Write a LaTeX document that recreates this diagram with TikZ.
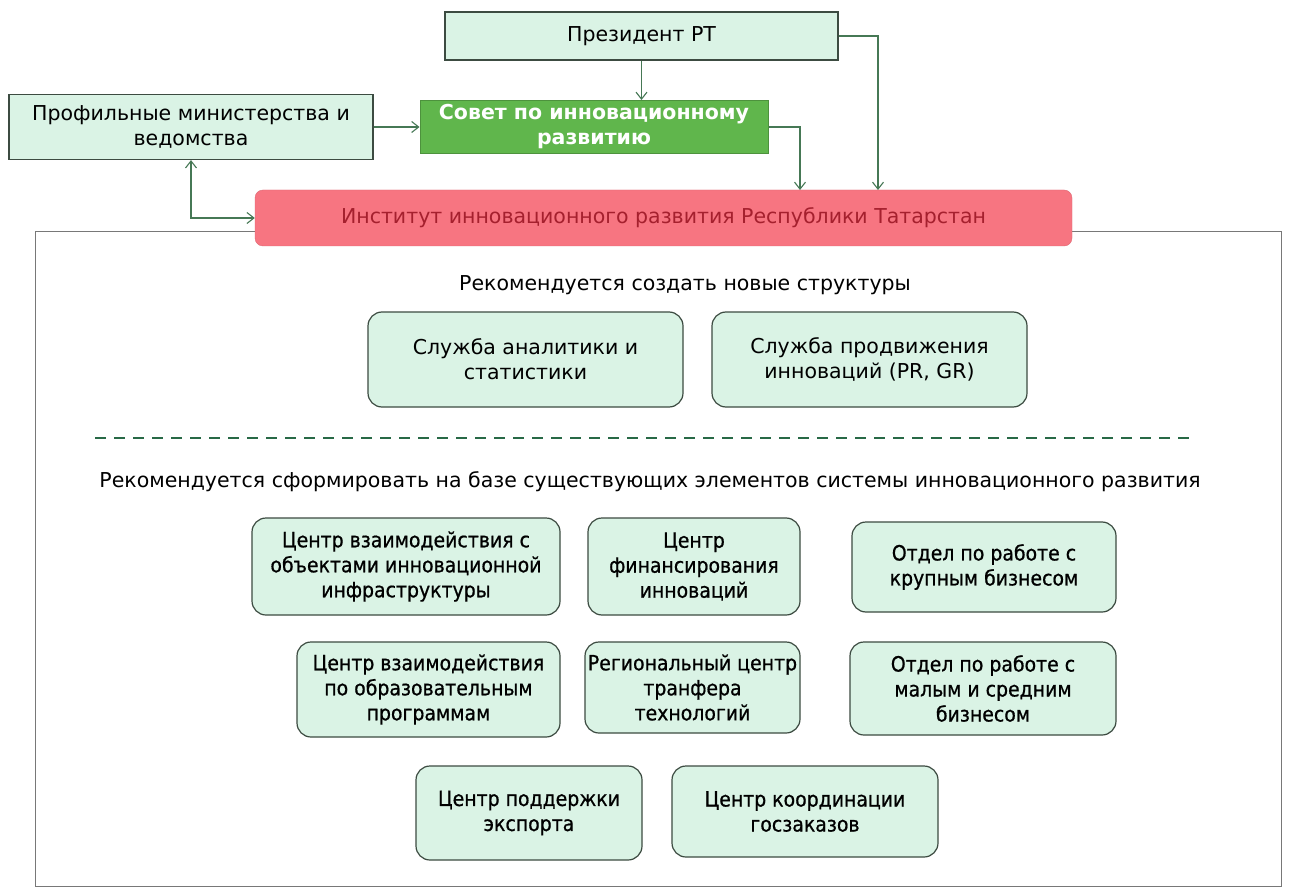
\documentclass[tikz,border=0pt]{standalone}
\usepackage{fontspec}
\setmainfont{DejaVu Sans}
\newfontfamily\condfont[FakeBold=0.7]{DejaVu Sans Condensed}
\usetikzlibrary{arrows.meta}
\definecolor{lightfill}{RGB}{218,243,229}
\definecolor{boxborder}{RGB}{60,75,65}
\definecolor{sovetfill}{RGB}{96,182,76}
\definecolor{instfill}{RGB}{247,117,129}
\definecolor{insttext}{RGB}{165,32,46}
\definecolor{arrcol}{RGB}{70,120,85}
\definecolor{dashcol}{RGB}{40,105,70}
\definecolor{framecol}{RGB}{120,120,120}
\tikzset{
  txt/.style={font=\fontsize{20.5}{25}\selectfont, align=center, inner sep=0pt},
  topbox/.style={txt, draw=boxborder, line width=1.2pt, fill=lightfill},
  sovetbox/.style={txt, draw=sovetfill!80!black, line width=1pt, fill=sovetfill, text=white, font=\fontsize{20.5}{25}\selectfont\bfseries},
  instbox/.style={txt, draw=instfill!90!black, fill=instfill, text=insttext, rounded corners=8pt},
  rbox/.style={txt, draw=boxborder, line width=1.2pt, fill=lightfill, rounded corners=14pt},
  lbox/.style={rbox, font=\condfont\fontsize{21}{25}\selectfont},
  arr/.style={draw=arrcol, line width=1.1pt, -{Straight Barb[length=7pt,width=11pt]}},
  darr/.style={draw=arrcol, line width=1.1pt, {Straight Barb[length=7pt,width=11pt]}-{Straight Barb[length=7pt,width=11pt]}},
}
\begin{document}
\begin{tikzpicture}[x=1pt,y=-1pt]
\useasboundingbox (0,0) rectangle (1289,890);
\fill[white] (0,0) rectangle (1289,890);
% frame
\coordinate (f1) at (35,232);
\coordinate (f2) at (1281,886);
\draw[framecol, line width=1pt] (f1) rectangle (f2);
% top nodes
\node[topbox, minimum width=393, minimum height=48] (pres) at (641.5,36) {Президент РТ};
\node[sovetbox, minimum width=348, minimum height=53] (sovet) at (594,127) {Совет по инновационному\\развитию};
\node[topbox, minimum width=364, minimum height=65] (prof) at (191,127) {Профильные министерства и\\ведомства};
\node[instbox, minimum width=817, minimum height=56] (inst) at (663.5,218) {Институт инновационного развития Республики Татарстан};
% connectors
\coordinate (c1) at (800,190);
\coordinate (c2) at (878,190);
\draw[arr] (pres.south) -- (pres.south |- sovet.north);
\draw[arr] (prof.east) -- (sovet.west);
\draw[arr] (sovet.east) -| (c1);
\draw[arr] (pres.east) -| (c2);
\draw[darr] (prof.south) |- (inst.west);
% section 1
\node[txt] (t1) at (685,285) {Рекомендуется создать новые структуры};
\node[rbox, minimum width=315, minimum height=95] (s1) at (525.5,359.5) {Служба аналитики и\\статистики};
\node[rbox, minimum width=315, minimum height=95] (s2) at (869.5,359.5) {Служба продвижения\\инноваций (PR, GR)};
% dashed separator
\coordinate (d1) at (95,438);
\coordinate (d2) at (1195,438);
\draw[dashcol, line width=2pt, dash pattern=on 11pt off 8pt] (d1) -- (d2);
% section 2
\node[txt] (t2) at (650,482) {Рекомендуется сформировать на базе существующих элементов системы инновационного развития};
\node[lbox, minimum width=308, minimum height=97] (b1) at (406,566.5) {Центр взаимодействия с\\объектами инновационной\\инфраструктуры};
\node[lbox, minimum width=212, minimum height=97] (b2) at (694,566.5) {Центр\\финансирования\\инноваций};
\node[lbox, minimum width=264, minimum height=90] (b3) at (984,567) {Отдел по работе с\\крупным бизнесом};
\node[lbox, minimum width=263, minimum height=95] (b4) at (428.5,689.5) {Центр взаимодействия\\по образовательным\\программам};
\node[lbox, minimum width=215, minimum height=91] (b5) at (692.5,687.5) {Региональный центр\\транфера\\технологий};
\node[lbox, minimum width=266, minimum height=93] (b6) at (983,688.5) {Отдел по работе с\\малым и средним\\бизнесом};
\node[lbox, minimum width=226, minimum height=94] (b7) at (529,813) {Центр поддержки\\экспорта};
\node[lbox, minimum width=266, minimum height=91] (b8) at (805,811.5) {Центр координации\\госзаказов};
\end{tikzpicture}
\end{document}
